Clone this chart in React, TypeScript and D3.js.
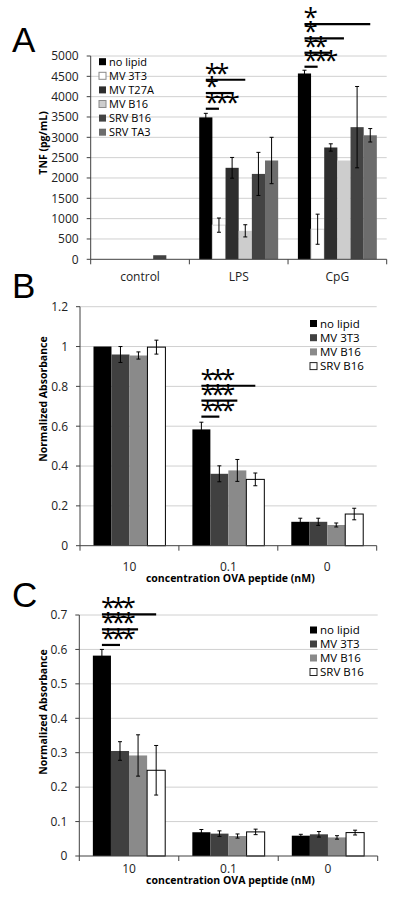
import React from "react";
import * as d3 from "d3";

const FONT = "'Open Sans', 'Liberation Sans', sans-serif";

// ---------- Panel A data ----------
const aCategories = ["control", "LPS", "CpG"];
const aSeries = ["no lipid", "MV 3T3", "MV T27A", "MV B16", "SRV B16", "SRV TA3"];
const aValues = [
  [0, 0, 0, 0, 100, 0],
  [3490, 840, 2250, 700, 2100, 2430],
  [4570, 740, 2750, 2430, 3250, 3050],
];
const aErrors = [
  [0, 0, 0, 0, 0, 0],
  [100, 175, 255, 150, 530, 570],
  [80, 370, 90, 0, 1000, 165],
];
const aTicks = [0, 500, 1000, 1500, 2000, 2500, 3000, 3500, 4000, 4500, 5000];
const aSig = [
  { cat: 1, to: 3, y: 4416, label: "**" },
  { cat: 1, to: 2, y: 4089, label: "*" },
  { cat: 1, to: 1, y: 3703, label: "***" },
  { cat: 2, to: 5, y: 5786, label: "*" },
  { cat: 2, to: 3, y: 5434, label: "*" },
  { cat: 2, to: 2, y: 5080, label: "**" },
  { cat: 2, to: 1, y: 4736, label: "***" },
];

// ---------- Panel B data ----------
const bCategories = ["10", "0.1", "0"];
const bSeries = ["no lipid", "MV 3T3", "MV B16", "SRV B16"];
const bValues = [
  [1.0, 0.96, 0.955, 0.997],
  [0.584, 0.361, 0.378, 0.333],
  [0.12, 0.12, 0.104, 0.159],
];
const bErrors = [
  [0, 0.04, 0.018, 0.035],
  [0.036, 0.04, 0.055, 0.032],
  [0.018, 0.018, 0.01, 0.029],
];
const bTicks = [0, 0.2, 0.4, 0.6, 0.8, 1, 1.2];
const bSig = [
  { cat: 1, to: 3, y: 0.803, label: "***" },
  { cat: 1, to: 2, y: 0.728, label: "***" },
  { cat: 1, to: 1, y: 0.648, label: "***" },
];

// ---------- Panel C data ----------
const cCategories = ["10", "0.1", "0"];
const cSeries = ["no lipid", "MV 3T3", "MV B16", "SRV B16"];
const cValues = [
  [0.582, 0.305, 0.292, 0.249],
  [0.069, 0.065, 0.058, 0.07],
  [0.059, 0.063, 0.054, 0.068],
];
const cErrors = [
  [0.018, 0.027, 0.06, 0.072],
  [0.008, 0.008, 0.006, 0.008],
  [0.004, 0.008, 0.005, 0.007],
];
const cTicks = [0, 0.1, 0.2, 0.3, 0.4, 0.5, 0.6, 0.7];
const cSig = [
  { cat: 0, to: 3, y: 0.702, label: "***" },
  { cat: 0, to: 2, y: 0.658, label: "***" },
  { cat: 0, to: 1, y: 0.613, label: "***" },
];

type Sig = { cat: number; to: number; y: number; label: string };

type PanelProps = {
  title: string;
  titleX: number;
  titleY: number;
  left: number;
  right: number;
  top: number;
  bottom: number;
  yMax: number;
  yTicks: number[];
  categories: string[];
  series: string[];
  fills: string[];
  strokes: string[];
  legendStrokes: string[];
  values: number[][];
  errors: number[][];
  sig: Sig[];
  legendX: number;
  legendY: number;
  legendGap: number;
  legendFont: number;
  yLabel: string;
  yLabelX: number;
  yLabelY: number;
  yLabelSize: number;
  xLabelY: number;
  xTitle?: string;
  xTitleY?: number;
};

function Panel(p: PanelProps) {
  const y = d3.scaleLinear().domain([0, p.yMax]).range([p.bottom, p.top]);
  const x0 = d3.scaleBand<string>().domain(p.categories).range([p.left, p.right]).padding(0);
  const x1 = d3
    .scaleBand<string>()
    .domain(p.series)
    .range([0, x0.bandwidth()])
    .paddingInner(0)
    .paddingOuter(0.75);
  const bw = x1.bandwidth();
  const boundaries = [p.left, ...p.categories.map((c) => (x0(c) as number) + x0.bandwidth())];
  const center = (ci: number, si: number) =>
    (x0(p.categories[ci]) as number) + (x1(p.series[si]) as number) + bw / 2;

  return (
    <g>
      <text x={p.titleX} y={p.titleY} fontSize={35} fontFamily="'Liberation Sans', Arial, sans-serif" fill="#000">
        {p.title}
      </text>
      {p.yTicks
        .filter((t) => t !== 0)
        .map((t) => (
          <line key={"g" + t} x1={p.left} x2={p.right} y1={y(t)} y2={y(t)} stroke="#d0d0d0" strokeWidth={1} />
        ))}
      {p.yTicks.map((t) => (
        <g key={"t" + t}>
          <line x1={p.left - 4} x2={p.left} y1={y(t)} y2={y(t)} stroke="#404040" strokeWidth={1} />
          <text
            x={p.left - 12}
            y={y(t)}
            dy="0.36em"
            textAnchor="end"
            fontSize={12}
            fontFamily={FONT}
            fill="#222"
          >
            {String(t)}
          </text>
        </g>
      ))}
      {p.values.map((row, ci) =>
        row.map((v, si) => (
          <rect
            key={`b${ci}-${si}`}
            x={(x0(p.categories[ci]) as number) + (x1(p.series[si]) as number)}
            y={y(v)}
            width={bw}
            height={p.bottom - y(v)}
            fill={p.fills[si]}
            stroke={p.strokes[si]}
            strokeWidth={1}
          />
        ))
      )}
      {p.errors.map((row, ci) =>
        row.map((e, si) => {
          if (e <= 0) return null;
          const cx = center(ci, si);
          const v = p.values[ci][si];
          return (
            <g key={`e${ci}-${si}`} stroke="#000" strokeWidth={1}>
              <line x1={cx} x2={cx} y1={y(v + e)} y2={y(v - e)} />
              <line x1={cx - 2} x2={cx + 2} y1={y(v + e)} y2={y(v + e)} />
              <line x1={cx - 2} x2={cx + 2} y1={y(v - e)} y2={y(v - e)} />
            </g>
          );
        })
      )}
      <line x1={p.left} x2={p.left} y1={p.top} y2={p.bottom} stroke="#404040" strokeWidth={1} />
      <line x1={p.left} x2={p.right} y1={p.bottom} y2={p.bottom} stroke="#404040" strokeWidth={1} />
      {boundaries.map((bx, i) => (
        <line key={"xt" + i} x1={bx} x2={bx} y1={p.bottom} y2={p.bottom + 5} stroke="#404040" strokeWidth={1} />
      ))}
      {p.categories.map((c) => (
        <text
          key={"xl" + c}
          x={(x0(c) as number) + x0.bandwidth() / 2}
          y={p.xLabelY}
          textAnchor="middle"
          fontSize={12}
          fontFamily={FONT}
          fill="#222"
        >
          {c}
        </text>
      ))}
      {p.xTitle && (
        <text
          x={(p.left + p.right) / 2 + 2}
          y={p.xTitleY}
          textAnchor="middle"
          fontSize={10.5}
          fontWeight="bold"
          fontFamily={FONT}
          fill="#000"
        >
          {p.xTitle}
        </text>
      )}
      <text
        transform={`translate(${p.yLabelX},${p.yLabelY}) rotate(-90)`}
        textAnchor="middle"
        dy="0.35em"
        fontSize={p.yLabelSize}
        fontWeight="bold"
        fontFamily={FONT}
        fill="#000"
      >
        {p.yLabel}
      </text>
      {p.series.map((s, si) => {
        const ly = p.legendY + si * p.legendGap;
        return (
          <g key={"lg" + s}>
            <rect
              x={p.legendX}
              y={ly - 3.5}
              width={7}
              height={7}
              fill={p.fills[si]}
              stroke={p.legendStrokes[si]}
              strokeWidth={1}
            />
            <text
              x={p.legendX + 10}
              y={ly}
              dy="0.36em"
              fontSize={p.legendFont}
              fontFamily={FONT}
              fill="#000"
            >
              {s}
            </text>
          </g>
        );
      })}
      {p.sig.map((s, i) => {
        const xa = center(s.cat, 0);
        const xb = center(s.cat, s.to);
        const ly = y(s.y);
        return (
          <g key={"s" + i}>
            <line x1={xa} x2={xb} y1={ly} y2={ly} stroke="#000" strokeWidth={2.2} />
            <text
              x={xa - 1}
              y={ly + 2}
              fontSize={26}
              letterSpacing={-4}
              fontFamily={FONT}
              fill="#000"
            >
              {s.label}
            </text>
          </g>
        );
      })}
    </g>
  );
}

export default function App() {
  return (
    <svg
      width={400}
      height={907}
      viewBox="0 0 400 907"
      style={{ position: "absolute", left: 0, top: 0, background: "#fff" }}
    >
      <rect x={0} y={0} width={400} height={907} fill="#fff" />
      <Panel
        title="A"
        titleX={12}
        titleY={51.5}
        left={90.7}
        right={386.7}
        top={56}
        bottom={259.3}
        yMax={5000}
        yTicks={aTicks}
        categories={aCategories}
        series={aSeries}
        fills={["#000000", "#ffffff", "#2e2e2e", "#cdcdcd", "#434343", "#6c6c6c"]}
        strokes={["none", "#d4d4d4", "none", "none", "none", "none"]}
        legendStrokes={["none", "#8a8a8a", "none", "#8a8a8a", "none", "none"]}
        values={aValues}
        errors={aErrors}
        sig={aSig}
        legendX={99}
        legendY={61.7}
        legendGap={14.1}
        legendFont={11}
        yLabel="TNF (pg/mL)"
        yLabelX={43}
        yLabelY={143}
        yLabelSize={10.5}
        xLabelY={281}
      />
      <Panel
        title="B"
        titleX={12}
        titleY={298}
        left={80}
        right={376.7}
        top={306.7}
        bottom={545.7}
        yMax={1.2}
        yTicks={bTicks}
        categories={bCategories}
        series={bSeries}
        fills={["#000000", "#404040", "#8a8a8a", "#ffffff"]}
        strokes={["none", "none", "none", "#000"]}
        legendStrokes={["none", "none", "none", "#222"]}
        values={bValues}
        errors={bErrors}
        sig={bSig}
        legendX={310}
        legendY={323.5}
        legendGap={14.2}
        legendFont={11.5}
        yLabel="Normalized Absorbance"
        yLabelX={43}
        yLabelY={399}
        yLabelSize={10.5}
        xLabelY={571}
        xTitle="concentration OVA peptide (nM)"
        xTitleY={581.5}
      />
      <Panel
        title="C"
        titleX={12}
        titleY={607}
        left={79.3}
        right={377.7}
        top={615}
        bottom={856}
        yMax={0.7}
        yTicks={cTicks}
        categories={cCategories}
        series={cSeries}
        fills={["#000000", "#404040", "#8a8a8a", "#ffffff"]}
        strokes={["none", "none", "none", "#000"]}
        legendStrokes={["none", "none", "none", "#222"]}
        values={cValues}
        errors={cErrors}
        sig={cSig}
        legendX={310}
        legendY={630}
        legendGap={14}
        legendFont={11.5}
        yLabel="Normalized Absorbance"
        yLabelX={43}
        yLabelY={712}
        yLabelSize={10.5}
        xLabelY={873}
        xTitle="concentration OVA peptide (nM)"
        xTitleY={884}
      />
    </svg>
  );
}
